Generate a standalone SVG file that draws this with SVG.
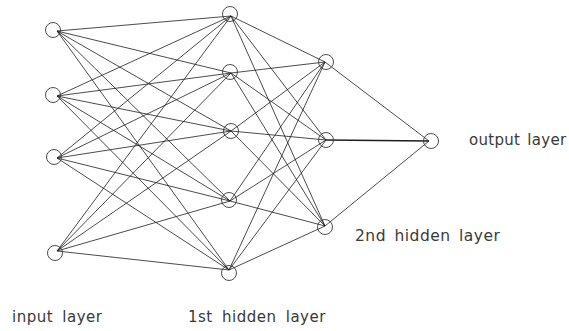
<svg xmlns="http://www.w3.org/2000/svg" width="569" height="331" viewBox="0 0 569 331">
<style>
.n{fill:none;stroke:#3a3a3a;stroke-width:0.9}
.e{stroke:#1e1e1e;stroke-width:0.8;fill:none}
.t{font-family:"DejaVu Sans",sans-serif;font-size:15px;fill:#3a3a3a;letter-spacing:0.5px}
</style>
<rect width="569" height="331" fill="#fff"/>
<g id="connectors">
<path class="e" d="M57,31L231,16M57,31L231,73M57,31L231,131M57,31L230,201M57,31L229,270
M57,96L231,16M57,96L231,73M57,96L231,131M57,96L230,201M57,96L229,270
M57,158L231,16M57,158L231,73M57,158L231,131M57,158L230,201M57,158L229,270
M57,251L231,16M57,251L231,73M57,251L231,131M57,251L230,201M57,251L229,270"/>
<path class="e" d="M231,16L325,62M231,16L326,140M231,16L325,226
M231,73L325,62M231,73L326,140M231,73L325,226
M231,131L325,62M231,131L326,140M231,131L325,226
M230,201L325,62M230,201L326,140M230,201L325,226
M229,270L325,62M229,270L326,140M229,270L325,226"/>
<path class="e" d="M325,62L429,141M325,226L429,141"/>
<path class="e" style="stroke-width:1.3" d="M326,140L429,141"/>
</g>
<g id="in1"><circle class="n" cx="53" cy="30" r="7.5"/></g>
<g id="in2"><circle class="n" cx="53" cy="95" r="7.5"/></g>
<g id="in3"><circle class="n" cx="54" cy="157" r="7.5"/></g>
<g id="in4"><circle class="n" cx="55" cy="253" r="7.5"/></g>
<g id="h1a"><circle class="n" cx="230" cy="14" r="7.5"/></g>
<g id="h1b"><circle class="n" cx="230" cy="72" r="7.5"/></g>
<g id="h1c"><circle class="n" cx="231" cy="131" r="7.5"/></g>
<g id="h1d"><circle class="n" cx="229" cy="200" r="7.5"/></g>
<g id="h1e"><circle class="n" cx="229" cy="273" r="7.5"/></g>
<g id="h2a"><circle class="n" cx="326" cy="62" r="7.5"/></g>
<g id="h2b"><circle class="n" cx="326" cy="140" r="7.5"/></g>
<g id="h2c"><circle class="n" cx="325" cy="227" r="7.5"/></g>
<g id="out"><circle class="n" cx="431" cy="141" r="7.5"/></g>
<g id="labels">
<text class="t" x="12" y="322" font-size="14.5" word-spacing="4">input layer</text>
<text class="t" x="188" y="322" font-size="14.5" word-spacing="4">1st hidden layer</text>
<text class="t" x="355" y="241" style="font-size:15.5px" word-spacing="3">2nd hidden layer</text>
<text class="t" x="469" y="145" style="letter-spacing:0.3px" word-spacing="2">output layer</text>
</g>
</svg>
